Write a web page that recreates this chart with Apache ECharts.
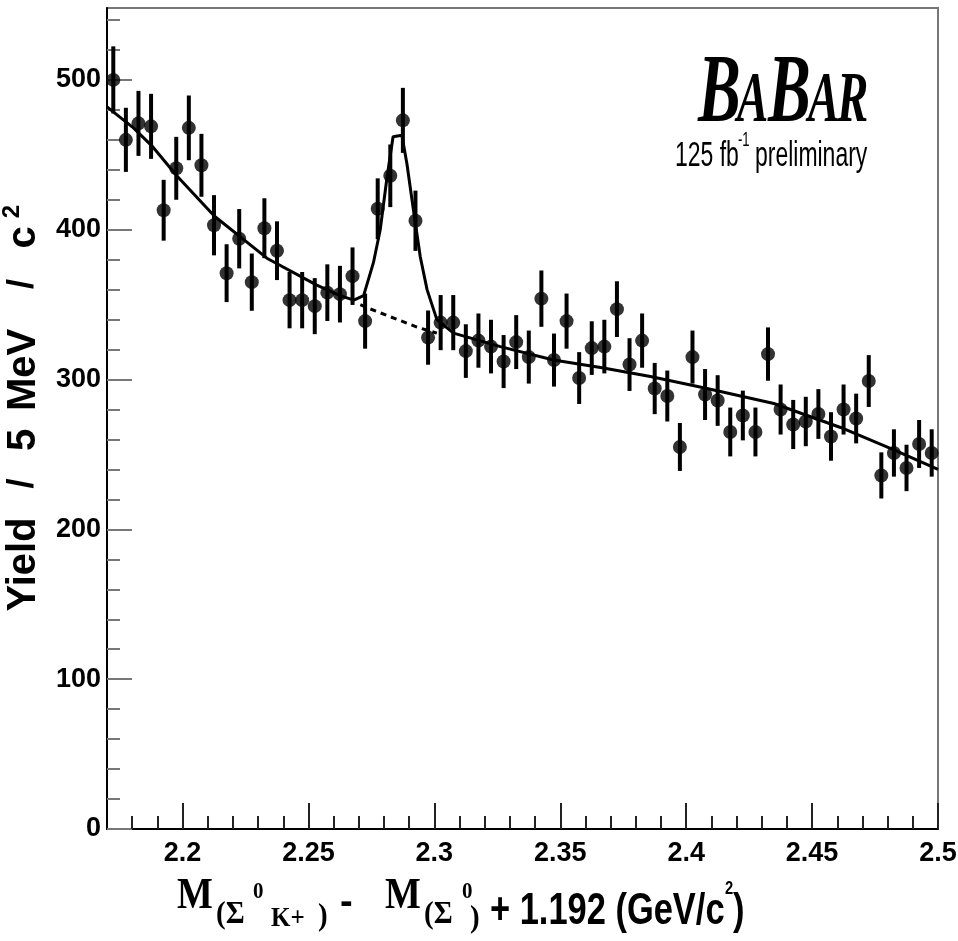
<!DOCTYPE html>
<html><head><meta charset="utf-8">
<script src="https://cdn.jsdelivr.net/npm/echarts@6/dist/echarts.min.js"></script>
<style>html,body{margin:0;padding:0;background:#fff}#c{width:958px;height:941px}</style>
</head><body><div id="c"></div>
<script>
// ---------------- data ----------------
const binCenters = [2.1725,2.1775,2.1825,2.1875,2.1925,2.1975,2.2025,2.2075,2.2125,2.2175,
  2.2225,2.2275,2.2325,2.2375,2.2425,2.2475,2.2525,2.2575,2.2625,2.2675,
  2.2725,2.2775,2.2825,2.2875,2.2925,2.2975,2.3025,2.3075,2.3125,2.3175,
  2.3225,2.3275,2.3325,2.3375,2.3425,2.3475,2.3525,2.3575,2.3625,2.3675,
  2.3725,2.3775,2.3825,2.3875,2.3925,2.3975,2.4025,2.4075,2.4125,2.4175,
  2.4225,2.4275,2.4325,2.4375,2.4425,2.4475,2.4525,2.4575,2.4625,2.4675,
  2.4725,2.4775,2.4825,2.4875,2.4925,2.4975];
const yields = [500,460,471,469,413,441,468,443,403,371,
  394,365,401,386,353,353,349,358,357,369,
  339,414,436,473,406,328,338,338,319,326,
  322,312,325,315,354,313,339,301,321,322,
  347,310,326,294,289,255,315,290,286,265,
  276,265,317,280,270,272,277,262,280,274,
  299,236,251,241,257,251];
const yieldErrors = [22.4,21.4,21.7,21.7,20.3,21.0,21.6,21.0,20.1,19.3,
  19.8,19.1,20.0,19.6,18.8,18.8,18.7,18.9,18.9,19.2,
  18.4,20.3,20.9,21.7,20.1,18.1,18.4,18.4,17.9,18.1,
  17.9,17.7,18.0,17.7,18.8,17.7,18.4,17.3,17.9,17.9,
  18.6,17.6,18.1,17.1,17.0,16.0,17.7,17.0,16.9,16.3,
  16.6,16.3,17.8,16.7,16.4,16.5,16.6,16.2,16.7,16.6,
  17.3,15.4,15.8,15.5,16.0,15.8];
// total fit (signal + background), solid line
const fitX = [2.1700,2.1805,2.1878,2.1977,2.2127,2.2335,2.2533,2.2626,2.2680,2.2719,
  2.2758,2.2785,2.2812,2.2836,2.2871,2.2891,2.2917,2.2944,2.2971,2.3010,
  2.3076,2.3262,2.3473,2.3660,2.3858,2.4083,2.4348,2.4613,2.4825,2.5000];
const fitY = [482,468,456,436,409,381,363,356,353,356,
  378,400,435,462,463,444,413,382,360,340,
  331,322,313,308,302,294,284,268,253,240];
// background only under the peak, dashed line
const bgX = [2.2706,2.2732,2.2931,2.3010];
const bgY = [350,348,335,331];
// axes
const xMajorTicks = [2.2,2.25,2.3,2.35,2.4,2.45,2.5];
const xMinorTicks = [2.18,2.19,2.21,2.22,2.23,2.24,2.26,2.27,2.28,2.29,2.31,2.32,2.33,2.34,
  2.36,2.37,2.38,2.39,2.41,2.42,2.43,2.44,2.46,2.47,2.48,2.49];
const yMajorTicks = [0,100,200,300,400,500];
const yMinorTicks = [20,40,60,80,120,140,160,180,220,240,260,280,320,340,360,380,
  420,440,460,480,520,540];
const xRange = [2.17, 2.5];
const yRange = [0, 548];

// ---------------- chart ----------------
const SANS = "'Liberation Sans',Arial,sans-serif";
const SERIF = "'Liberation Serif','Times New Roman',serif";
const NX = 0.82; // horizontal squeeze to mimic a condensed Helvetica

function T(text, x, baseline, font, size, scaleY, opts) {
  opts = opts || {};
  const sy = scaleY || 1;
  return {
    type: 'text', x: x, y: baseline - 0.34 * size * sy, scaleY: sy, scaleX: opts.sx || 1,
    z: 100,
    style: {
      text: text, x: 0, y: 0, fill: '#000',
      font: (opts.style || '') + ' ' + (opts.weight || 'normal') + ' ' + size + 'px ' + font,
      textAlign: 'left', textVerticalAlign: 'middle', align: 'left', verticalAlign: 'middle'
    }
  };
}
function R(text, cx, cy, size, weight) {
  return {
    type: 'text', x: cx, y: cy, rotation: Math.PI / 2, z: 100,
    style: {
      text: text, x: 0, y: 0, fill: '#000',
      font: (weight || 'bold') + ' ' + size + 'px ' + SANS,
      textAlign: 'center', textVerticalAlign: 'middle', align: 'center', verticalAlign: 'middle'
    }
  };
}

const chart = echarts.init(document.getElementById('c'), null, {renderer: 'canvas'});
const labelStyle = {fontFamily: SANS, fontWeight: 'bold', fontSize: 27, color: '#000'};

chart.setOption({
  animation: false,
  backgroundColor: '#fff',
  grid: {left: 107, right: 20, top: 8, bottom: 112, show: true, borderColor: '#777',
         borderWidth: 2, backgroundColor: 'transparent', containLabel: false, outerBoundsMode: 'none'},
  xAxis: [{
    type: 'value', min: xRange[0], max: xRange[1], position: 'bottom',
    axisLine: {show: true, onZero: false, lineStyle: {color: '#000', width: 2}},
    axisTick: {show: true, inside: true, length: 26, customValues: xMajorTicks, lineStyle: {color: '#222', width: 2}},
    axisLabel: Object.assign({show: true, margin: 11, customValues: xMajorTicks,
      formatter: v => String(+v.toFixed(2))}, labelStyle),
    splitLine: {show: false}, minorTick: {show: false}
  }, {
    type: 'value', min: xRange[0], max: xRange[1], position: 'bottom', offset: 0,
    axisLine: {show: false, onZero: false},
    axisTick: {show: true, inside: true, length: 13, customValues: xMinorTicks, lineStyle: {color: '#222', width: 2}},
    axisLabel: {show: false}, splitLine: {show: false}
  }],
  yAxis: [{
    type: 'value', min: yRange[0], max: yRange[1], position: 'left',
    axisLine: {show: true, onZero: false, lineStyle: {color: '#000', width: 2}},
    axisTick: {show: true, inside: true, length: 25, customValues: yMajorTicks, lineStyle: {color: '#777', width: 2}},
    axisLabel: Object.assign({show: true, margin: 6, customValues: yMajorTicks}, labelStyle),
    splitLine: {show: false}
  }, {
    type: 'value', min: yRange[0], max: yRange[1], position: 'left', offset: 0,
    axisLine: {show: false, onZero: false},
    axisTick: {show: true, inside: true, length: 13, customValues: yMinorTicks, lineStyle: {color: '#777', width: 2}},
    axisLabel: {show: false}, splitLine: {show: false}
  }],
  series: [{
    type: 'line', name: 'fit', xAxisIndex: 0, yAxisIndex: 0,
    data: fitX.map((x, i) => [x, fitY[i]]), showSymbol: false, symbol: 'none',
    lineStyle: {color: '#000', width: 3}, z: 2, silent: true
  }, {
    type: 'line', name: 'background', xAxisIndex: 0, yAxisIndex: 0,
    data: bgX.map((x, i) => [x, bgY[i]]), showSymbol: false, symbol: 'none',
    lineStyle: {color: '#000', width: 3, type: [6, 5]}, z: 2, silent: true
  }, {
    type: 'custom', name: 'errors', xAxisIndex: 0, yAxisIndex: 0,
    data: binCenters.map((x, i) => [x, yields[i], yieldErrors[i]]),
    renderItem: function (params, api) {
      const x = api.value(0), y = api.value(1), e = api.value(2);
      const p1 = api.coord([x, y + e]);
      const p2 = api.coord([x, y - e]);
      return {type: 'line', shape: {x1: p1[0], y1: p1[1], x2: p2[0], y2: p2[1]},
              style: {stroke: '#000', lineWidth: 4}};
    }, z: 3, silent: true
  }, {
    type: 'scatter', name: 'data', xAxisIndex: 0, yAxisIndex: 0,
    data: binCenters.map((x, i) => [x, yields[i]]),
    symbol: 'circle', symbolSize: 14, itemStyle: {color: '#000'}, z: 4, silent: true
  }],
  graphic: [
    // BaBar logo
    T('B', 698, 129, SERIF, 64, 1.52, {weight: 'bold', style: 'italic'}),
    T('A', 737, 127, SERIF, 47, 1.52, {weight: 'bold', style: 'italic'}),
    T('B', 768, 129, SERIF, 64, 1.52, {weight: 'bold', style: 'italic'}),
    T('A', 808, 127, SERIF, 47, 1.52, {weight: 'bold', style: 'italic'}),
    T('R', 837, 127, SERIF, 47, 1.52, {weight: 'bold', style: 'italic'}),
    T('125 fb', 675, 168, SANS, 28, 1.25, {sx: NX}),
    T('-1', 738, 147, SANS, 16, 1.25, {sx: NX}),
    T('preliminary', 755, 168, SANS, 28, 1.25, {sx: NX}),
    // y title
    R('Yield', 23.5, 564.5, 40),
    R('/', 23.5, 483.5, 36),
    R('5', 23.5, 440, 40),
    R('MeV', 23.5, 370, 40),
    R('/', 23.5, 284, 36),
    R('c', 23.5, 237.5, 40),
    R('2', 12, 211.5, 24),
    // x title
    T('M', 177, 912, SERIF, 38, 1.15, {weight: 'bold'}),
    T('(\u03A3', 216, 926, SERIF, 29, 1.1, {weight: 'bold'}),
    T('0', 253, 900, SERIF, 21, 1.1, {weight: 'bold'}),
    T('K+', 271, 928, SERIF, 25, 1.1, {weight: 'bold'}),
    T(')', 318, 928, SERIF, 29, 1.1, {weight: 'bold'}),
    T('-', 340, 916, SANS, 38, 1.0, {weight: 'bold'}),
    T('M', 385, 912, SERIF, 38, 1.15, {weight: 'bold'}),
    T('(\u03A3', 424, 926, SERIF, 29, 1.1, {weight: 'bold'}),
    T('0', 462, 900, SERIF, 21, 1.1, {weight: 'bold'}),
    T(')', 470, 930, SERIF, 29, 1.1, {weight: 'bold'}),
    T('+ 1.192 (GeV/c', 490, 927, SANS, 42, 1.07, {weight: 'bold', sx: NX}),
    T('2', 725, 895, SANS, 18, 1.07, {weight: 'bold', sx: NX}),
    T(')', 733, 927, SANS, 42, 1.07, {weight: 'bold', sx: NX})
  ]
});
</script>
</body></html>
